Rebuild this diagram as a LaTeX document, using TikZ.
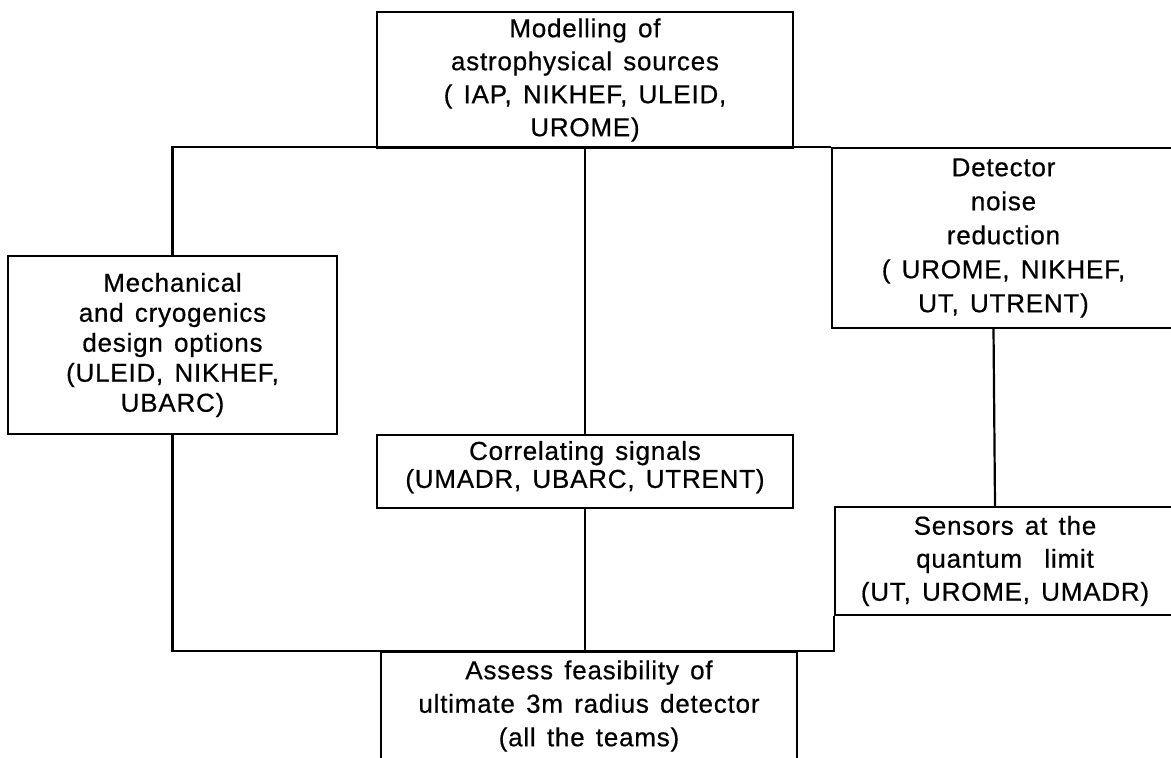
\documentclass[tikz,border=0pt]{standalone}
\usepackage{fontspec}
\setmainfont{Liberation Sans}[LetterSpace=3,WordSpace=1.4,FakeBold=0.6]
\begin{document}
\begin{tikzpicture}[x=0.5pt,y=-0.5pt,
			box/.style={draw,line width=1.1pt,align=center,inner sep=0pt,font=\fontsize{13}{16.5}\selectfont},
			wire/.style={line width=1.1pt}]
			\useasboundingbox (0,0) rectangle (1171,758);
			\node[box,minimum width=208pt,minimum height=68pt] (model) at (585,80) {Modelling of\\astrophysical sources\\( IAP, NIKHEF, ULEID,\\UROME)};
			\node[box,minimum width=171.5pt,minimum height=90pt,font=\fontsize{13}{17}\selectfont] (det) at (1003.5,238) {Detector\\noise\\reduction\\( UROME, NIKHEF,\\UT, UTRENT)};
			\node[box,minimum width=164.5pt,minimum height=89pt,font=\fontsize{13}{15}\selectfont] (mech) at (172.5,345) {Mechanical\\and cryogenics\\design options\\(ULEID, NIKHEF,\\UBARC)};
			\node[box,minimum width=208pt,minimum height=36.5pt,text depth=7pt,font=\fontsize{13}{14}\selectfont] (corr) at (585,471.5) {Correlating signals\\(UMADR, UBARC, UTRENT)};
			\node[box,minimum width=170pt,minimum height=54pt] (sens) at (1005,561) {Sensors at the\\quantum\ \ limit\\(UT, UROME, UMADR)};
			\node[box,minimum width=208pt,minimum height=54pt,font=\fontsize{13}{16.75}\selectfont] (assess) at (589,706) {Assess feasibility of\\ultimate 3m radius detector\\(all the teams)};
			\draw[wire] (mech.north) |- (det.north west);
			\draw[wire] (corr.north) -- (corr.north |- model.south);
			\draw[wire] ([xshift=-5pt]det.south) -- ([xshift=-5pt]sens.north);
			\draw[wire] (mech.south) |- (sens.south west |- assess.north) -- (sens.south west);
			\draw[wire] (corr.south) -- (corr.south |- assess.north);
		\end{tikzpicture}
\end{document}
